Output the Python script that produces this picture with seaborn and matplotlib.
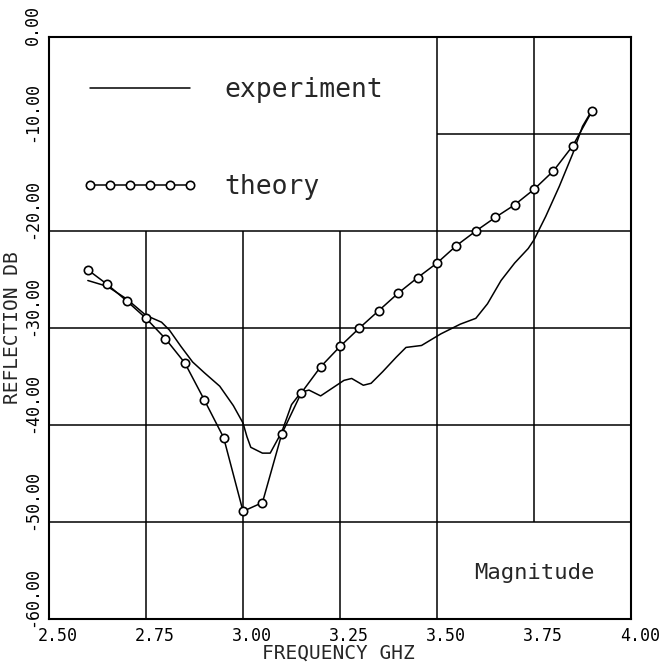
import matplotlib
matplotlib.use("Agg")
import matplotlib.pyplot as plt
import matplotlib.transforms as mtransforms
from matplotlib.lines import Line2D
from matplotlib.legend_handler import HandlerLine2D
import seaborn as sns

# theory: computed points every 50 MHz
theory_freq = [2.60, 2.65, 2.70, 2.75, 2.80, 2.85, 2.90, 2.95, 3.00, 3.05,
               3.10, 3.15, 3.20, 3.25, 3.30, 3.35, 3.40, 3.45, 3.50, 3.55,
               3.60, 3.65, 3.70, 3.75, 3.80, 3.85, 3.90]
theory_db = [-24.0, -25.5, -27.2, -29.0, -31.1, -33.6, -37.4, -41.3, -48.9, -48.0,
             -40.9, -36.7, -34.0, -31.9, -30.0, -28.2, -26.4, -24.8, -23.3, -21.5,
             -20.0, -18.6, -17.3, -15.7, -13.8, -11.2, -7.6]

# experiment: measured trace
exp_freq = [2.60, 2.65, 2.70, 2.75, 2.79, 2.81, 2.84, 2.87, 2.90, 2.94,
            2.975, 3.00, 3.01, 3.02, 3.05, 3.07, 3.10, 3.125, 3.15, 3.17,
            3.20, 3.23, 3.26, 3.28, 3.31, 3.33, 3.36, 3.395, 3.42, 3.46,
            3.51, 3.56, 3.60, 3.63, 3.665, 3.70, 3.735, 3.75, 3.78, 3.815,
            3.85, 3.875, 3.90]
exp_db = [-25.1, -25.7, -27.0, -28.7, -29.4, -30.2, -31.9, -33.5, -34.6, -36.0,
          -38.0, -39.8, -41.2, -42.3, -42.9, -42.9, -40.7, -37.9, -36.6, -36.4,
          -37.0, -36.2, -35.4, -35.2, -35.9, -35.7, -34.5, -33.0, -32.0, -31.8,
          -30.6, -29.6, -29.0, -27.5, -25.1, -23.3, -21.8, -20.9, -18.5, -15.4,
          -12.0, -9.2, -7.5]

x_ticks = [2.50, 2.75, 3.00, 3.25, 3.50, 3.75, 4.00]
x_labels = ['2.50', '2.75', '3.00', '3.25', '3.50', '3.75', '4.00']
y_ticks = [0, -10, -20, -30, -40, -50, -60]
y_labels = ['0.00', '-10.00', '-20.00', '-30.00', '-40.00', '-50.00', '-60.00']

sns.set_style('white')
plt.rcParams['font.family'] = ['DejaVu Sans Mono', 'DejaVu Sans']

fig = plt.figure(figsize=(6.67, 6.62), dpi=100)
ax = fig.add_axes([0.0735, 0.065, 0.8726, 0.879])

# partial grid, the way the plotter drew it (blank behind legend / label boxes)
grid_kw = dict(color='black', linewidth=1.1, zorder=1)
ax.hlines(-10, 3.5, 4.0, **grid_kw)
for yv in [-20, -30, -40, -50]:
    ax.hlines(yv, 2.5, 4.0, **grid_kw)
for xv in [2.75, 3.00, 3.25]:
    ax.vlines(xv, -60, -20, **grid_kw)
ax.vlines(3.5, -60, 0, **grid_kw)
ax.vlines(3.75, -50, 0, **grid_kw)

sns.lineplot(x=exp_freq, y=exp_db, ax=ax, color='black', linewidth=1.1,
             sort=False, estimator=None, label='experiment', zorder=3)
sns.lineplot(x=theory_freq, y=theory_db, ax=ax, color='black', linewidth=1.1,
             sort=False, estimator=None, label='theory', marker='o',
             markersize=6, markerfacecolor='white', markeredgecolor='black',
             markeredgewidth=1.2, zorder=4)

ax.set_xlim(2.5, 4.0)
ax.set_ylim(-60, 0)
ax.set_xticks(x_ticks)
ax.set_xticklabels(x_labels, fontsize=12)
ax.set_yticks(y_ticks)
ax.set_yticklabels(y_labels, fontsize=12, rotation=90, va='bottom')
ax.tick_params(axis='both', direction='out', length=4, width=1.1, color='black',
               labelcolor='black')
ax.tick_params(axis='x', pad=1.5)
ax.tick_params(axis='y', pad=1.5)

dx = mtransforms.ScaledTranslation(6.5 / 72, 0, fig.dpi_scale_trans)
for lab in ax.get_xticklabels():
    lab.set_transform(lab.get_transform() + dx)
dy = mtransforms.ScaledTranslation(0, -6 / 72, fig.dpi_scale_trans)
for lab in ax.get_yticklabels():
    lab.set_transform(lab.get_transform() + dy)

for sp in ax.spines.values():
    sp.set_visible(True)
    sp.set_color('black')
    sp.set_linewidth(1.5)

ax.set_xlabel('FREQUENCY GHZ', fontsize=14)
ax.xaxis.set_label_coords(0.497, -0.043)
ax.set_ylabel('REFLECTION DB', fontsize=14)
ax.yaxis.set_label_coords(-0.047, 0.5)

ax.legend(loc='upper left', bbox_to_anchor=(0.07, 0.931), frameon=False,
          fontsize=19, handlelength=3.8, handletextpad=1.3, labelspacing=2.7,
          borderpad=0, borderaxespad=0,
          handler_map={Line2D: HandlerLine2D(marker_pad=0, numpoints=6)})

ax.text(3.75, -55.3, 'Magnitude', fontsize=16, ha='center', va='center')

fig.savefig('out.png', dpi=100, facecolor='white')
